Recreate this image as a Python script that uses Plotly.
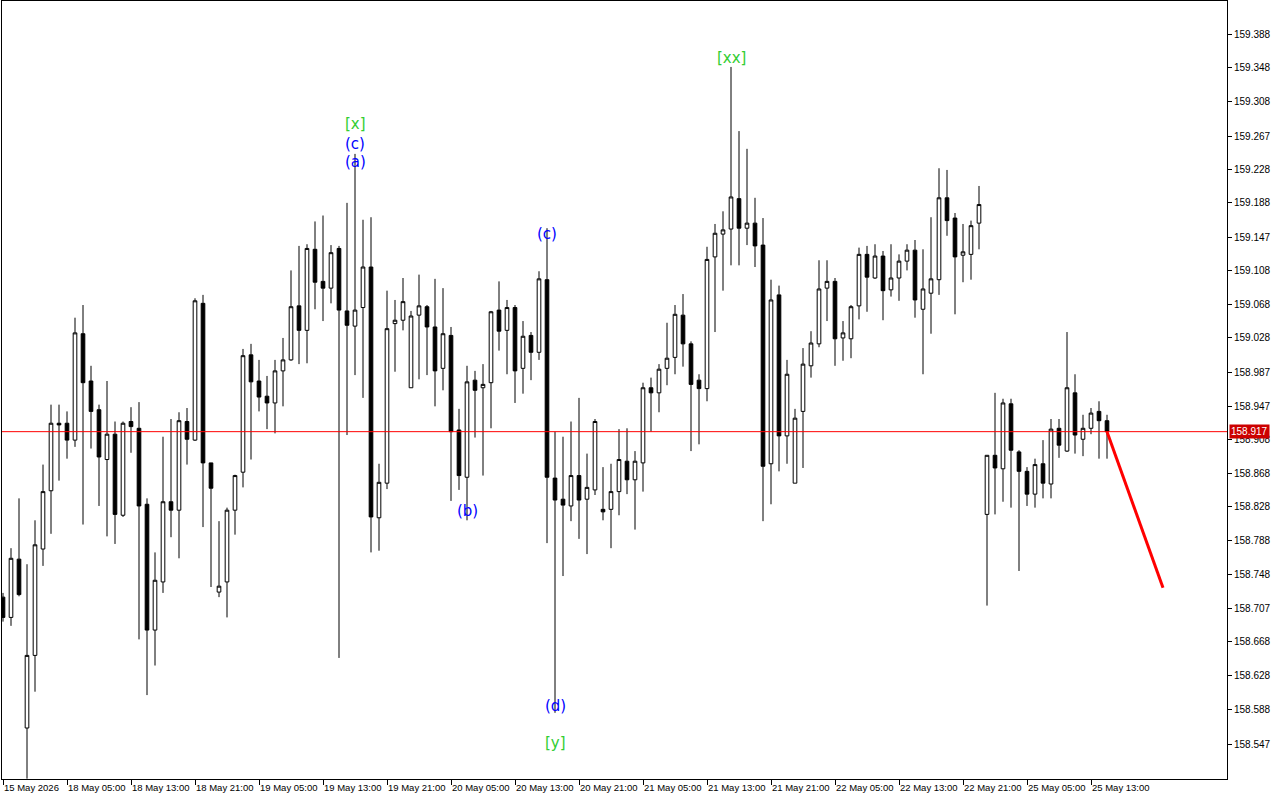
import plotly.graph_objects as go

# ---- data (USDJPY-like H1 candles) ----
open_ = [158.721,158.697,158.766,158.566,158.652,158.778,158.847,158.927,158.927,158.907,
         159.033,158.977,158.943,158.884,158.914,158.818,158.929,158.921,158.831,158.682,
         158.739,158.834,158.824,158.929,158.907,159.069,158.880,158.727,158.739,158.824,
         158.869,159.008,158.977,158.959,158.951,158.989,159.002,159.066,159.037,159.133,
         159.095,159.087,159.134,159.060,159.042,159.064,159.112,158.815,158.856,159.045,
         159.049,158.969,159.055,159.065,159.041,158.992,159.031,158.919,158.863,158.978,
         158.969,158.975,159.061,159.037,159.064,158.992,159.031,159.011,159.097,158.862,
         158.837,158.829,158.865,158.837,158.848,158.825,158.825,158.846,158.882,158.860,
         158.880,158.969,158.963,158.992,159.005,159.055,159.021,158.978,158.968,159.124,
         159.151,159.157,159.193,159.158,159.164,159.138,158.879,159.079,158.912,158.856,
         158.941,158.995,159.021,159.087,159.095,159.028,159.027,159.066,159.127,159.099,
         159.125,159.085,159.099,159.119,159.132,159.062,159.081,159.097,159.194,159.170,
         159.126,159.127,159.164,158.819,158.889,158.873,158.950,158.893,158.870,158.843,
         158.879,158.855,158.921,158.894,158.963,158.908,158.921,158.941,158.930]
high = [158.726,158.779,158.838,158.760,158.812,158.878,158.949,158.949,158.941,159.052,
        159.067,158.995,158.949,158.977,158.929,158.929,158.946,158.952,158.838,158.774,
        158.911,158.932,158.940,158.945,159.075,159.079,158.880,158.811,158.827,158.866,
        159.015,159.021,159.002,158.983,159.002,159.028,159.108,159.137,159.139,159.166,
        159.173,159.138,159.137,159.188,159.246,159.168,159.171,158.879,159.084,159.073,
        159.099,159.060,159.103,159.067,159.098,159.087,159.041,158.944,158.995,158.989,
        158.997,159.060,159.095,159.073,159.067,159.048,159.035,159.107,159.158,158.917,
        158.911,158.929,158.957,158.891,158.932,158.875,158.879,158.920,158.921,158.894,
        158.975,158.981,158.997,159.046,159.067,159.080,159.024,158.985,159.136,159.163,
        159.178,159.349,159.273,159.252,159.194,159.170,159.097,159.090,159.002,158.944,
        159.016,159.036,159.120,159.120,159.099,159.048,159.067,159.135,159.137,159.139,
        159.131,159.139,159.127,159.139,159.144,159.133,159.171,159.229,159.227,159.176,
        159.163,159.167,159.208,158.889,158.963,158.956,158.956,158.895,158.875,158.885,
        158.907,158.932,158.932,159.035,158.985,158.937,158.945,158.953,158.937]
low = [158.692,158.687,158.722,158.506,158.609,158.758,158.796,158.859,158.885,158.899,
       158.807,158.897,158.829,158.793,158.784,158.816,158.892,158.671,158.605,158.640,
       158.726,158.792,158.767,158.878,158.906,158.804,158.733,158.721,158.697,158.795,
       158.851,158.884,158.941,158.920,158.915,158.947,159.001,158.997,158.998,159.062,
       159.048,159.069,158.649,158.913,158.984,158.957,158.774,158.776,158.849,158.988,
       159.037,158.969,158.979,158.984,158.947,158.966,158.835,158.848,158.812,158.910,
       158.865,158.921,159.013,158.985,158.951,158.962,158.978,159.002,158.785,158.584,
       158.746,158.811,158.790,158.772,158.842,158.812,158.779,158.818,158.843,158.801,
       158.846,158.917,158.940,158.972,158.985,158.994,158.894,158.902,158.953,159.035,
       159.084,159.114,159.114,159.138,159.112,158.811,158.831,158.870,158.879,158.856,
       158.874,158.981,159.017,159.048,158.995,159.001,159.004,159.050,159.059,159.098,
       159.049,159.077,159.072,159.108,159.052,158.985,159.033,159.079,159.149,159.056,
       159.094,159.097,159.133,158.711,158.819,158.834,158.827,158.752,158.829,158.827,
       158.838,158.838,158.886,158.893,158.891,158.888,158.914,158.885,158.885]
close = [158.697,158.767,158.724,158.652,158.783,158.846,158.927,158.925,158.907,159.034,
         158.975,158.941,158.887,158.914,158.819,158.927,158.923,158.829,158.682,158.741,
         158.834,158.824,158.930,158.908,159.072,158.880,158.850,158.734,158.824,158.865,
         159.007,158.976,158.958,158.951,158.989,159.002,159.065,159.037,159.134,159.094,
         159.087,159.129,159.061,159.043,159.061,159.112,158.816,158.857,159.039,159.049,
         159.071,159.054,159.066,159.041,158.989,159.033,158.917,158.865,158.976,158.966,
         158.973,159.059,159.036,159.064,158.989,159.030,159.011,159.098,158.863,158.836,
         158.830,158.865,158.836,158.851,158.929,158.822,158.846,158.884,158.860,158.882,
         158.969,158.963,158.991,159.004,159.056,159.021,158.973,158.968,159.121,159.152,
         159.156,159.195,159.158,159.164,159.137,158.876,159.073,158.912,158.985,158.933,
         158.997,159.022,159.086,159.095,159.027,159.034,159.065,159.127,159.100,159.125,
         159.084,159.099,159.119,159.132,159.073,159.086,159.098,159.194,159.167,159.124,
         159.130,159.161,159.186,158.889,158.874,158.951,158.895,158.870,158.843,158.878,
         158.856,158.920,158.901,158.969,158.913,158.921,158.939,158.930,158.917]

x_tick_labels = ["15 May 2026", "18 May 05:00", "18 May 13:00", "18 May 21:00",
                 "19 May 05:00", "19 May 13:00", "19 May 21:00", "20 May 05:00",
                 "20 May 13:00", "20 May 21:00", "21 May 05:00", "21 May 13:00",
                 "21 May 21:00", "22 May 05:00", "22 May 13:00", "22 May 21:00",
                 "25 May 05:00", "25 May 13:00"]
y_tick_labels = ["159.388", "159.348", "159.308", "159.267", "159.228", "159.188",
                 "159.147", "159.108", "159.068", "159.028", "158.987", "158.947",
                 "158.908", "158.868", "158.828", "158.788", "158.748", "158.707",
                 "158.668", "158.628", "158.588", "158.547"]

current_price = 158.917

wave_labels = ["[x]", "(c)", "(a)", "(c)", "(b)", "(d)", "[y]", "[xx]"]
wave_bars = [44, 44, 44, 68, 58, 69, 69, 91]
wave_prices = [159.281, 159.258, 159.236, 159.151, 158.823, 158.592, 158.548, 159.360]
wave_colors = ["#32CD32", "#0000FF", "#0000FF", "#0000FF", "#0000FF", "#0000FF", "#32CD32", "#32CD32"]

forecast_bars = [138, 145]
forecast_prices = [158.917, 158.732]

# ---- figure ----
n = len(close)
xs = list(range(n))

fig = go.Figure()
fig.add_trace(go.Candlestick(
    x=xs, open=open_, high=high, low=low, close=close,
    increasing=dict(line=dict(color="black", width=1), fillcolor="white"),
    decreasing=dict(line=dict(color="black", width=1), fillcolor="black"),
    whiskerwidth=0, hoverinfo="skip", showlegend=False,
))

fig.add_trace(go.Scatter(
    x=forecast_bars, y=forecast_prices, mode="lines",
    line=dict(color="#FF0000", width=3), hoverinfo="skip", showlegend=False,
))

fig.add_shape(type="line", xref="paper", x0=0, x1=1, yref="y",
              y0=current_price, y1=current_price,
              line=dict(color="#FF0000", width=1))

for t, b, p, c in zip(wave_labels, wave_bars, wave_prices, wave_colors):
    fig.add_annotation(x=b, y=p, text=t, showarrow=False,
                       font=dict(family="DejaVu Sans", size=15, color=c),
                       xanchor="center", yanchor="middle")

fig.add_annotation(xref="paper", x=1, y=current_price, text=f"{current_price:.3f}",
                   showarrow=False, xanchor="left", yanchor="middle", xshift=2,
                   bgcolor="#CC0000", borderpad=1,
                   font=dict(family="Liberation Sans", size=10, color="white"))

fig.update_layout(
    width=1280, height=800,
    margin=dict(l=2, r=53, t=1, b=21, autoexpand=False),
    paper_bgcolor="white", plot_bgcolor="white",
    boxgap=0.35,
    font=dict(family="Liberation Sans", size=10, color="black"),
    xaxis=dict(
        range=[-0.125, 153], rangeslider=dict(visible=False),
        tickmode="array", tickvals=list(range(0, n, 8)), ticktext=x_tick_labels,
        tickangle=0, automargin=False, tickfont=dict(size=9.5),
        ticks="outside", ticklen=5, tickcolor="black",
        ticklabelposition="outside right",
        showgrid=False, zeroline=False,
        showline=True, linecolor="black", linewidth=1, mirror=True,
    ),
    yaxis=dict(
        side="right", range=[158.5056, 159.4271], automargin=False,
        tickmode="array", tickvals=[float(v) for v in y_tick_labels], ticktext=y_tick_labels,
        ticks="outside", ticklen=4, tickcolor="black",
        showgrid=False, zeroline=False,
        showline=True, linecolor="black", linewidth=1, mirror=True,
    ),
)

fig.write_html("out.html", config={"displayModeBar": False},
               post_script="document.body.style.margin='0';")
